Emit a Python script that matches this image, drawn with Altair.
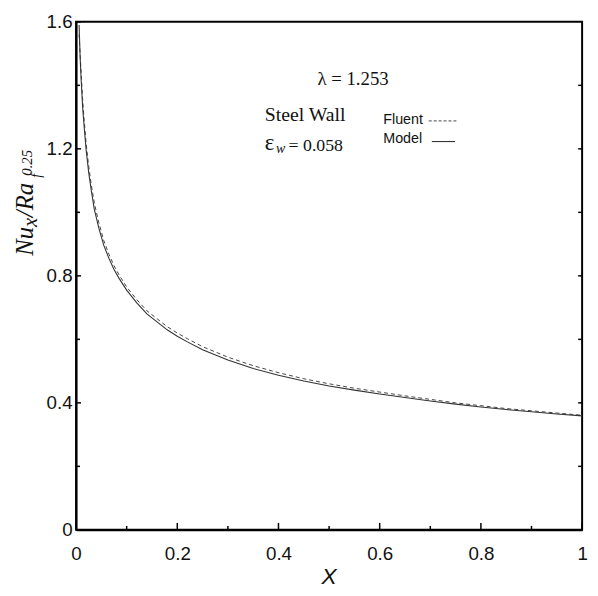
import altair as alt
import pandas as pd

# ---- data ----
x_vals = [0.006, 0.008, 0.010, 0.013, 0.016, 0.020, 0.025, 0.030, 0.036, 0.045,
          0.055, 0.065, 0.075, 0.085, 0.10, 0.12, 0.14, 0.16, 0.18, 0.20,
          0.22, 0.25, 0.30, 0.35, 0.40, 0.45, 0.50, 0.55, 0.60, 0.65,
          0.70, 0.75, 0.80, 0.85, 0.90, 0.95, 1.00]
model_vals = [1.59, 1.49, 1.42, 1.33, 1.27, 1.195, 1.125, 1.07, 1.01, 0.95,
              0.895, 0.855, 0.82, 0.792, 0.755, 0.715, 0.68, 0.655, 0.63, 0.61,
              0.592, 0.567, 0.535, 0.508, 0.487, 0.469, 0.453, 0.440, 0.428, 0.417,
              0.406, 0.396, 0.387, 0.379, 0.372, 0.365, 0.359]
fluent_vals = [1.56, 1.50, 1.44, 1.355, 1.29, 1.215, 1.145, 1.088, 1.03, 0.967,
               0.91, 0.868, 0.832, 0.803, 0.765, 0.725, 0.69, 0.665, 0.64, 0.62,
               0.602, 0.577, 0.544, 0.517, 0.495, 0.476, 0.46, 0.446, 0.434, 0.422,
               0.411, 0.40, 0.391, 0.382, 0.375, 0.368, 0.361]

x_major = [0, 0.2, 0.4, 0.6, 0.8, 1.0]
x_minor = [0.1, 0.3, 0.5, 0.7, 0.9]
y_major = [0, 0.4, 0.8, 1.2, 1.6]
y_minor = [0.2, 0.6, 1.0, 1.4]
right_ticks = [0.2, 0.4, 0.6, 0.8, 1.0, 1.2, 1.4]

W, H = 513, 515

xs = alt.Scale(domain=[0, 1], nice=False, zero=False)
ys = alt.Scale(domain=[0, 1.6], nice=False, zero=False)
common_axis = dict(format="~g", title=None, ticks=False, grid=False,
                   domainColor="black", domainWidth=2,
                   labelFont="Liberation Sans", labelFontSize=19,
                   labelColor="#111111", labelFlush=False, labelOverlap=False)
xaxis = alt.Axis(values=x_major, labelPadding=15, **common_axis)
yaxis = alt.Axis(values=y_major, labelPadding=4, **common_axis)


def X(f="x"):
    return alt.X(f + ":Q", scale=xs, axis=xaxis)


def Y(f="y"):
    return alt.Y(f + ":Q", scale=ys, axis=yaxis)


df_m = pd.DataFrame({"x": x_vals, "y": model_vals})
df_f = pd.DataFrame({"x": x_vals, "y": fluent_vals})

model = alt.Chart(df_m).mark_line(color="#333333", strokeWidth=1.1).encode(x=X(), y=Y())
fluent = alt.Chart(df_f).mark_line(color="#444444", strokeWidth=1.0,
                                   strokeDash=[4, 3]).encode(x=X(), y=Y())

# inward ticks
bt_major = alt.Chart(pd.DataFrame({"x": x_major})).mark_rule(color="black", strokeWidth=1.5).encode(
    x=X(), y=alt.value(H), y2=alt.value(H - 7))
bt_minor = alt.Chart(pd.DataFrame({"x": x_minor})).mark_rule(color="black", strokeWidth=1.5).encode(
    x=X(), y=alt.value(H), y2=alt.value(H - 4))
lt_major = alt.Chart(pd.DataFrame({"y": y_major})).mark_rule(color="black", strokeWidth=1.5).encode(
    y=Y(), x=alt.value(0), x2=alt.value(5))
lt_minor = alt.Chart(pd.DataFrame({"y": y_minor})).mark_rule(color="black", strokeWidth=1.5).encode(
    y=Y(), x=alt.value(0), x2=alt.value(4))
rt = alt.Chart(pd.DataFrame({"y": right_ticks})).mark_rule(color="black", strokeWidth=1.5).encode(
    y=Y(), x=alt.value(W), x2=alt.value(W - 4))

# annotations (data coordinates)
def txt(df, **kw):
    return alt.Chart(df).mark_text(align="left", baseline="alphabetic", color="#111111", **kw).encode(
        x=X(), y=Y(), text="t:N")

lam = txt(pd.DataFrame({"x": [0.477], "y": [1.400], "t": ["λ  =  1.253"]}),
          font="Liberation Serif", fontSize=19)
steel = txt(pd.DataFrame({"x": [0.373], "y": [1.288], "t": ["Steel Wall"]}),
            font="Liberation Serif", fontSize=20)
eps = txt(pd.DataFrame({"x": [0.373], "y": [1.195], "t": ["ε"]}),
          font="Liberation Serif", fontSize=23)
eps_w = txt(pd.DataFrame({"x": [0.395], "y": [1.186], "t": ["w"]}),
            font="Liberation Serif", fontSize=14, fontStyle="italic")
eps_v = txt(pd.DataFrame({"x": [0.420], "y": [1.192], "t": ["= 0.058"]}),
            font="Liberation Serif", fontSize=18)
leg_txt = txt(pd.DataFrame({"x": [0.607, 0.607], "y": [1.278, 1.219], "t": ["Fluent", "Model"]}),
              font="Liberation Sans", fontSize=14.5)

leg_f = alt.Chart(pd.DataFrame({"x": [0.697], "x2": [0.755], "y": [1.288]})).mark_rule(
    color="#444444", strokeWidth=1, strokeDash=[3, 2]).encode(x=X(), x2="x2:Q", y=Y())
leg_m = alt.Chart(pd.DataFrame({"x": [0.703], "x2": [0.749], "y": [1.223]})).mark_rule(
    color="#333333", strokeWidth=1.1).encode(x=X(), x2="x2:Q", y=Y())

# axis titles as text
def ytitle(t, px, py, size, style="italic"):
    return alt.Chart(pd.DataFrame({"t": [t]})).mark_text(
        align="left", baseline="alphabetic", angle=270, font="Liberation Serif",
        fontSize=size, fontStyle=style, color="#111111").encode(
        x=alt.value(px), y=alt.value(py), text="t:N")

yt = [ytitle("Nu", -44, 237, 25), ytitle("x", -40, 208, 21), ytitle("/Ra", -44, 198, 25),
      ytitle("f", -36, 158, 14), ytitle("0.25", -45, 156, 15)]

xtitle = alt.Chart(pd.DataFrame({"t": ["X"]})).mark_text(
    align="center", baseline="alphabetic", font="Liberation Sans", fontSize=23,
    fontStyle="italic", color="#111111").encode(
    x=alt.value(W / 2), y=alt.value(570), text="t:N")

chart = alt.layer(
    fluent, model, bt_major, bt_minor, lt_major, lt_minor, rt,
    lam, steel, eps, eps_w, eps_v, leg_txt, leg_f, leg_m, xtitle, *yt
).properties(
    width=W, height=H,
    padding={"left": 69, "top": 10, "right": 8, "bottom": 62},
    autosize=alt.AutoSizeParams(type="none"),
).configure_view(stroke="black", strokeWidth=2)

chart.save("out.html", embed_options={"renderer": "svg", "actions": False})
